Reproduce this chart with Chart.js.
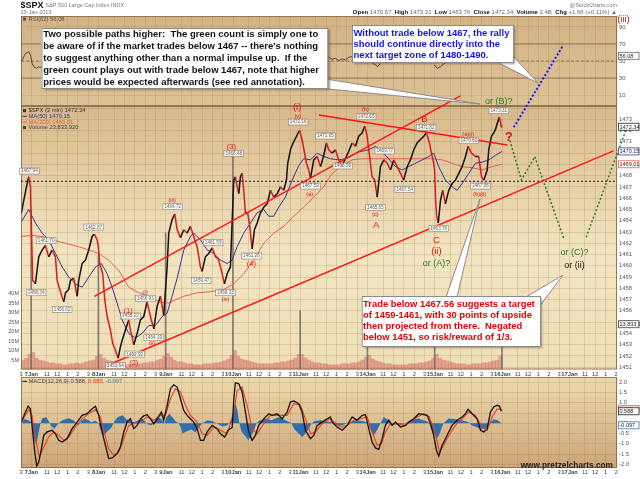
<!DOCTYPE html>
<html>
<head>
<meta charset="utf-8">
<script src="https://cdn.jsdelivr.net/npm/chart.js@4.4.1/dist/chart.umd.min.js"></script>
<style>
html,body{margin:0;padding:0;background:#fff;}
#wrap{position:relative;width:640px;height:479px;overflow:hidden;}
canvas{position:absolute;left:0;top:0;}
</style>
</head>
<body>
<div id="wrap">
<canvas id="rsi" width="640" height="479"></canvas>
<canvas id="macd" width="640" height="479"></canvas>
<canvas id="price" width="640" height="479"></canvas>
</div>
<script>
// x values are trading days since 7 Jan 09:30 (one session = 1.0)
var dayLabels = ['7Jan','8Jan','9Jan','10Jan','11Jan','14Jan','15Jan','16Jan','17Jan'];
var hourLabels = ['11','12','1','2','3'];
var hourValues = [11, 12, 13, 14, 15];
var priceTicks = [1451,1452,1453,1454,1455,1456,1457,1458,1459,1460,1461,1462,1463,1464,1465,1466,1467,1468,1469,1470,1471,1472,1473];
var volumeTicks = [5,10,15,20,25,30,35,40];
var rsiTicks = [10,30,50,70,90];
var macdTicks = [-2,-1.5,-1,-0.5,0,0.5,1,1.5,2];

var priceTimes = [
 -0.149,-0.114,-0.064,-0.040,-0.015,0.019,0.059,0.109,0.159,0.208,
 0.257,0.308,0.357,0.382,0.431,0.480,0.506,0.555,0.580,0.629,
 0.680,0.703,0.754,0.803,0.852,0.903,0.937,0.977,0.995,1.015,
 1.060,1.090,1.126,1.175,1.209,1.249,1.289,1.323,1.349,1.398,
 1.447,1.472,1.521,1.572,1.621,1.670,1.720,1.770,1.819,1.869,
 1.918,1.967,2.018,2.042,2.092,2.131,2.167,2.216,2.265,2.315,
 2.364,2.413,2.464,2.513,2.538,2.587,2.636,2.687,2.736,2.781,
 2.836,2.870,2.910,2.959,3.008,3.033,3.059,3.083,3.108,3.133,
 3.157,3.182,3.216,3.246,3.282,3.316,3.356,3.405,3.454,3.505,
 3.554,3.603,3.654,3.703,3.752,3.792,3.811,3.851,3.891,3.926,
 3.966,3.990,4.034,4.089,4.124,4.149,4.198,4.249,4.298,4.342,
 4.387,4.421,4.471,4.520,4.570,4.620,4.669,4.714,4.769,4.818,
 4.867,4.918,4.956,4.992,5.016,5.041,5.066,5.105,5.141,5.190,
 5.239,5.289,5.338,5.388,5.438,5.487,5.536,5.587,5.636,5.685,
 5.735,5.784,5.834,5.874,5.918,5.948,5.982,5.995,6.010,6.025,
 6.050,6.082,6.116,6.156,6.205,6.256,6.305,6.354,6.404,6.454,
 6.494,6.543,6.602,6.651,6.692,6.726,6.777,6.800,6.840,6.874,
 6.900,6.925,6.959,6.989,6.998];
var priceCloses = [
 1464.7,1465.8,1467.3,1467.9,1467.0,1458.7,1458.4,1460.8,1461.4,1461.8,
 1460.8,1461.4,1460.8,1458.7,1457.7,1456.8,1457.6,1457.9,1458.7,1458.9,
 1457.3,1458.7,1460.2,1460.5,1461.4,1462.6,1462.8,1462.3,1461.7,1460.2,
 1459.3,1457.0,1455.5,1454.3,1453.1,1452.5,1451.8,1452.8,1453.4,1454.3,
 1455.2,1454.3,1453.0,1454.0,1455.2,1455.5,1456.8,1455.5,1454.4,1456.4,
 1457.3,1455.6,1459.9,1462.9,1464.1,1464.6,1463.2,1462.5,1463.2,1462.9,
 1463.5,1462.6,1461.7,1459.9,1459.5,1460.8,1461.1,1461.6,1460.8,1460.6,
 1459.3,1458.4,1459.3,1459.9,1467.6,1467.9,1467.0,1466.4,1467.9,1468.2,
 1466.7,1464.7,1464.7,1463.5,1461.5,1463.2,1463.8,1464.7,1465.2,1465.5,
 1466.7,1466.1,1466.4,1467.0,1466.7,1467.6,1469.1,1470.3,1470.9,1471.3,
 1471.8,1472.0,1470.9,1469.1,1468.5,1467.8,1469.4,1469.7,1468.8,1469.7,
 1470.9,1470.3,1470.0,1470.3,1469.4,1468.9,1469.5,1470.1,1470.9,1470.6,
 1471.5,1471.8,1472.4,1471.5,1470.3,1469.1,1467.9,1467.6,1466.1,1468.8,
 1469.4,1469.1,1468.5,1469.4,1468.8,1468.2,1467.6,1468.8,1469.4,1470.3,
 1470.9,1471.2,1471.5,1471.8,1470.9,1470.0,1469.1,1468.5,1465.8,1464.4,
 1463.8,1465.8,1466.7,1465.5,1466.7,1467.3,1467.6,1468.2,1468.8,1469.7,
 1470.6,1470.0,1469.7,1469.7,1467.9,1467.6,1468.5,1470.3,1471.5,1471.8,
 1472.1,1472.6,1473.2,1472.3,1472.34];

var ma50Times = [
 -0.149,-0.040,0.059,0.159,0.257,0.357,0.457,0.555,0.654,0.754,
 0.852,0.952,1.041,1.126,1.200,1.274,1.349,1.447,1.547,1.646,
 1.744,1.844,1.944,2.018,2.092,2.167,2.265,2.364,2.413,2.513,
 2.613,2.711,2.810,2.910,2.984,3.059,3.157,3.257,3.356,3.454,
 3.529,3.603,3.677,3.777,3.877,3.975,4.049,4.149,4.248,4.346,
 4.446,4.570,4.669,4.769,4.867,5.016,5.115,5.215,5.313,5.413,
 5.513,5.610,5.710,5.810,5.908,5.982,6.056,6.156,6.256,6.330,
 6.404,6.503,6.602,6.702,6.800,6.900,6.998];
var ma50Values = [
 1463.9,1465.0,1463.8,1462.9,1462.3,1461.1,1459.9,1459.0,1458.4,1458.1,
 1459.0,1459.9,1460.2,1459.3,1458.1,1456.7,1455.2,1454.0,1453.6,1454.0,
 1454.7,1454.7,1455.5,1455.8,1457.3,1458.9,1461.4,1462.6,1462.9,1462.3,
 1461.4,1461.1,1460.5,1460.2,1460.5,1461.7,1462.9,1463.8,1464.7,1465.0,
 1464.4,1464.4,1465.2,1466.1,1467.6,1468.9,1469.5,1469.4,1470.0,1469.7,
 1469.5,1469.4,1469.5,1469.8,1470.1,1470.3,1470.6,1470.1,1469.5,1468.8,
 1468.5,1468.8,1469.1,1469.4,1469.7,1470.0,1468.8,1467.6,1467.0,1466.7,
 1467.3,1468.2,1469.1,1469.2,1469.4,1469.8,1470.15];

var ma200Times = [
 -0.149,0.010,0.159,0.308,0.506,0.703,0.852,1.001,1.149,1.298,
 1.447,1.596,1.744,1.893,2.042,2.190,2.265,2.464,2.662,2.859,
 3.008,3.157,3.306,3.454,3.603,3.752,3.900,4.049,4.198,4.346,
 4.471,4.620,4.769,4.918,5.215,5.513,5.810,5.958,6.107,6.256,
 6.404,6.553,6.702,6.851,6.998];
var ma200Values = [
 1462.6,1462.7,1462.6,1462.3,1462.0,1461.7,1461.4,1461.1,1460.5,1459.6,
 1458.1,1457.6,1457.3,1456.8,1456.7,1457.1,1457.3,1457.6,1457.7,1457.9,
 1458.4,1459.3,1460.5,1462.0,1462.9,1463.5,1464.4,1465.2,1466.1,1467.0,
 1468.2,1468.9,1469.4,1469.5,1469.5,1469.5,1469.5,1469.5,1469.4,1469.1,
 1468.8,1468.7,1468.5,1468.8,1469.01];

// volume in millions, 20 slots per session, last rows aligned to the close
var volumeDays = [-1, 0, 1, 2, 3, 4, 5, 6];
var volumeRows = [
 [5, 6, 8],
 [9, 6, 5, 4.5, 4, 3.5, 3.5, 3, 3, 2.5, 2.5, 3, 3, 3.5, 3, 3.5, 4, 4.5, 5, 7],
 [8, 6, 5, 4.5, 4, 3.5, 3, 3, 2.5, 2.5, 3, 3, 3, 3.5, 3.5, 4, 4, 5, 5.5, 7],
 [8.5, 6.5, 5, 4, 4, 3.5, 3, 3, 2.5, 2.5, 2.5, 3, 3, 3, 3.5, 3.5, 4, 4.5, 5.5, 7.5],
 [10, 7, 5.5, 5, 4.5, 4, 3.5, 3, 3, 3, 3, 3, 3.5, 3.5, 4, 4, 4.5, 5, 6, 8],
 [8, 6, 5, 4, 3.5, 3.5, 3, 3, 2.5, 2.5, 2.5, 2.5, 3, 3, 3, 3.5, 3.5, 4, 5, 6.5],
 [7.5, 5.5, 4.5, 4, 3.5, 3, 3, 2.5, 2.5, 2.5, 2.5, 2.5, 3, 3, 3, 3.5, 3.5, 4, 4.5, 6],
 [8, 6, 5, 4.5, 4, 3.5, 3, 3, 3, 2.5, 2.5, 3, 3, 3, 3.5, 3.5, 4, 4.5, 5, 7]];
var closeSpikeTimes = [-0.004, 0.996, 1.996, 2.996, 3.996, 4.996, 5.996, 6.996];
var closeSpikeVolumes = [84, 60, 72, 113, 31, 11.6, 12, 12];

var rsiTimes = [
 -0.149,-0.089,-0.040,-0.015,0.010,0.034,0.074,0.109,0.134,0.159,0.2,
 4.421,4.471,4.520,4.570,4.620,4.669,4.719,4.769,4.8,
 5.066,5.115,5.149,5.190,5.3,
 5.993,6.033,6.082,6.131,6.181,6.230];
var rsiValues = [
 49.2,59.0,61.0,57.0,47.3,43.3,41.4,43.3,42.1,45.3,null,
 54.4,52.0,53.2,50.4,52.7,51.2,54.4,55.1,null,
 48.0,45.3,43.3,47.3,null,
 45.3,41.4,43.3,46.5,49.2,51.2];

var macdTimes = [
 -0.149,-0.089,-0.049,-0.015,0.019,0.049,0.079,0.109,0.149,0.183,
 0.233,0.308,0.357,0.406,0.457,0.531,0.605,0.680,0.754,0.828,
 0.903,0.952,1.001,1.051,1.100,1.149,1.200,1.274,1.323,1.373,
 1.423,1.472,1.521,1.572,1.621,1.670,1.720,1.770,1.819,1.869,
 1.933,1.967,2.018,2.067,2.116,2.167,2.216,2.265,2.315,2.364,
 2.413,2.464,2.513,2.562,2.613,2.687,2.761,2.810,2.875,2.925,
 2.985,3.010,3.033,3.083,3.133,3.182,3.231,3.282,3.331,3.380,
 3.454,3.529,3.579,3.654,3.728,3.802,3.851,3.901,3.975,4.025,
 4.074,4.149,4.198,4.248,4.323,4.397,4.446,4.471,4.546,4.620,
 4.695,4.769,4.843,4.918,4.967,5.016,5.066,5.115,5.165,5.215,
 5.264,5.313,5.364,5.413,5.487,5.562,5.611,5.685,5.760,5.834,
 5.884,5.933,5.982,6.022,6.057,6.107,6.156,6.205,6.256,6.330,
 6.404,6.454,6.494,6.553,6.627,6.677,6.726,6.777,6.825,6.874,
 6.925,6.959,6.989];
var macdValues = [
 0.06,0.55,0.84,0.71,-0.42,-1.40,-2.08,-1.89,-1.24,-0.59,
 -0.42,-0.34,-0.51,-0.83,-0.91,-0.75,-0.26,0.06,0.39,0.47,
 0.71,0.83,0.39,-0.42,-1.07,-1.72,-1.69,-1.48,-1.16,-0.42,
 0.06,0.22,-0.26,-0.10,0.22,0.36,0.42,0.22,-0.02,0.22,
 0.55,0.15,0.88,1.69,1.88,1.77,1.20,0.63,0.39,0.22,
 0.06,-0.26,-0.83,-0.83,-0.42,-0.10,-0.26,-0.51,-0.67,-0.34,
 -0.20,1.20,1.98,1.93,1.53,0.55,-0.42,-0.83,-0.59,-0.10,
 0.22,0.47,0.39,0.47,0.22,0.55,1.04,1.09,0.96,0.55,
 -0.34,-0.75,-0.59,-0.10,0.06,0.22,0.31,0.06,-0.18,-0.34,
 -0.10,0.31,0.15,0.39,0.42,-0.26,-0.91,-1.20,-1.27,-0.75,
 -0.10,0.15,-0.10,0.06,-0.18,-0.10,0.06,0.22,0.47,0.42,
 0.39,-0.02,-0.59,-1.32,-1.60,-1.07,-0.75,-0.42,-0.10,0.15,
 0.31,0.47,0.68,0.47,0.22,-0.34,-0.42,-0.26,0.55,0.80,
 0.88,0.84,0.59];

var signalTimes = [
 -0.149,-0.040,0.010,0.059,0.119,0.183,0.257,0.331,0.406,0.480,
 0.555,0.654,0.754,0.852,0.952,1.026,1.075,1.149,1.224,1.298,
 1.373,1.447,1.521,1.621,1.720,1.819,1.918,1.993,2.067,2.141,
 2.216,2.290,2.364,2.464,2.538,2.613,2.711,2.810,2.910,3.010,
 3.059,3.133,3.207,3.282,3.356,3.454,3.554,3.677,3.802,3.901,
 4.000,4.074,4.149,4.223,4.323,4.446,4.595,4.695,4.794,4.892,
 4.992,5.066,5.141,5.204,5.264,5.338,5.438,5.536,5.636,5.735,
 5.834,5.918,6.007,6.067,6.131,6.205,6.305,6.404,6.503,6.602,
 6.702,6.777,6.851,6.925,6.989];
var signalValues = [
 0.06,0.68,0.39,-0.77,-1.64,-1.16,-0.67,-0.42,-0.59,-0.83,
 -0.67,-0.18,0.22,0.47,0.68,0.31,-0.34,-1.24,-1.56,-1.40,
 -0.75,-0.10,-0.02,0.06,0.31,0.15,0.39,0.39,1.20,1.69,
 1.53,0.88,0.39,0.06,-0.51,-0.59,-0.18,-0.34,-0.51,0.55,
 1.61,1.77,0.88,-0.26,-0.51,-0.02,0.39,0.39,0.39,0.96,
 0.88,0.22,-0.51,-0.42,-0.02,0.22,-0.18,-0.10,0.15,0.22,
 0.31,-0.42,-1.07,-1.00,-0.42,-0.02,-0.02,-0.10,0.06,0.31,
 0.47,0.31,-0.51,-1.40,-1.07,-0.59,-0.10,0.22,0.55,0.39,
 -0.18,-0.34,0.31,0.70,0.69];

var histTimes = [
 -0.149,-0.104,-0.045,0.000,0.015,0.049,0.074,0.104,0.134,0.164,
 0.223,0.257,0.297,0.342,0.401,0.461,0.555,0.625,0.669,0.699,
 0.729,0.788,0.848,0.892,0.952,0.996,1.026,1.071,1.130,1.190,
 1.234,1.279,1.353,1.413,1.472,1.532,1.591,1.651,1.725,1.784,
 1.844,1.888,1.933,1.978,2.007,2.052,2.097,2.141,2.186,2.216,
 2.245,2.305,2.379,2.439,2.483,2.543,2.617,2.692,2.781,2.840,
 2.914,2.959,3.005,3.033,3.063,3.093,3.123,3.227,3.301,3.346,
 3.375,3.480,3.569,3.673,3.747,3.822,3.866,3.911,4.030,4.119,
 4.164,4.208,4.297,4.401,4.471,4.546,4.620,4.695,4.818,4.941,
 5.011,5.041,5.090,5.145,5.190,5.239,5.309,5.353,5.428,5.532,
 5.591,5.636,5.755,5.874,5.918,5.963,6.033,6.082,6.126,6.205,
 6.305,6.404,6.498,6.543,6.702,6.781,6.810,6.874,6.929,6.974,
 6.989];
var histValues = [
 0.00,0.20,0.15,0.05,-0.30,-0.90,-1.00,-0.50,0.00,0.25,
 0.30,0.10,-0.15,-0.26,0.00,0.15,0.25,0.15,0.00,-0.10,
 0.05,0.23,0.15,0.05,0.12,0.00,-0.30,-0.59,-0.40,-0.20,
 0.10,0.30,0.39,0.20,0.10,0.05,0.15,0.23,-0.05,-0.10,
 0.10,0.30,0.20,0.00,0.30,0.47,0.30,0.10,0.00,-0.15,
 -0.50,-0.40,-0.30,-0.45,-0.20,0.00,0.15,0.10,-0.05,-0.15,
 -0.10,0.10,0.50,1.00,0.60,0.00,-0.40,-0.83,-0.40,0.00,
 0.10,0.23,0.15,0.30,0.20,0.08,0.00,-0.30,-0.67,-0.30,
 0.00,0.10,0.15,0.08,0.05,-0.10,-0.10,0.00,0.15,0.10,
 0.00,-0.30,-0.59,-0.30,0.00,0.31,0.15,0.00,-0.07,-0.05,
 0.05,0.15,0.23,0.10,0.00,-0.40,-0.75,-0.40,0.00,0.23,
 0.20,0.15,0.05,-0.10,-0.29,-0.20,0.00,0.20,0.15,0.05,
 -0.10];

// annotations, in chart coordinates (day, price)
var supportLevel = 1467.5;
var trendLines = [
 [0.937, 1457.28, 6.379, 1475.07],
 [1.108, 1451.11, 8.654, 1470.19],
 [4.275, 1473.38, 7.078, 1470.72]];
var bluePath = [[7.172, 1472.29], [7.900, 1479.5]];
var greenPaths = [
 [[7.097, 1471.46], [7.286, 1467.62], [7.484, 1469.68], [7.915, 1462.44]],
 [[8.248, 1462.53], [8.848, 1472.17]]];
var priceTags = [
 [-0.030,1468.41,'1467.94'],[0.070,1457.61,'1458.34'],[0.219,1462.23,'1461.70'],
 [0.457,1456.14,'1456.62'],[0.926,1463.44,'1462.87'],[1.249,1451.14,'1451.64'],
 [1.472,1455.55,'1455.20'],[1.536,1452.17,'1452.92'],[1.695,1457.12,'1456.93'],
 [1.819,1453.62,'1454.19'],[2.101,1465.24,'1464.72'],[2.702,1462.05,'1461.59'],
 [2.523,1458.68,'1459.47'],[2.885,1457.61,'1458.33'],[3.008,1469.98,'1468.48'],
 [3.271,1460.87,'1461.26'],[3.966,1472.76,'1472.16'],[4.372,1471.52,'1471.05'],
 [4.149,1467.08,'1467.59'],[4.629,1468.86,'1468.56'],[4.977,1473.23,'1472.65'],
 [5.254,1470.19,'1469.77'],[5.115,1465.19,'1465.65'],[5.551,1466.79,'1467.54'],
 [5.869,1472.29,'1471.82'],[6.057,1463.33,'1463.76'],[6.503,1471.10,'1470.62'],
 [6.677,1467.08,'1467.56'],[6.949,1473.76,'1473.31']];
var waveLabels = [
 [1.438,1456.02,'(1)','mid'],[1.521,1451.35,'(2)','mid'],[1.695,1457.61,'(i)','small'],
 [1.795,1453.12,'(ii)','small'],[2.092,1465.84,'(iii)','small'],[2.885,1456.97,'(iv)','small'],
 [2.974,1470.52,'(3)','mid'],[3.271,1460.16,'(4)','mid'],[3.951,1474.06,'(i)','big'],
 [3.960,1473.29,'(v)','small'],[4.138,1466.37,'(a)','small'],[4.967,1473.89,'(b)','small'],
 [5.115,1464.51,'(c)','small'],[5.126,1463.62,'A','big'],[5.844,1473.00,'B','big'],
 [6.022,1462.29,'C','big'],[6.022,1461.25,'(ii)','big'],[6.022,1460.22,'or (A)?','green'],
 [6.494,1471.67,'(a)(i)','small'],[6.666,1466.35,'(b)(ii)','small'],[6.949,1474.54,'or (B)?','green'],
 [7.097,1471.43,'?','q'],[8.074,1461.20,'or (C)?','green'],[8.074,1460.00,'or (ii)','dark'],
 [8.803,1481.90,'(iii)','big']];

var FONT = '"Liberation Sans", Arial, sans-serif';
var GRID = 'rgba(150,110,60,0.28)';
var FRAME = 'rgba(120,95,60,0.75)';
var X_MIN = -0.155, X_MAX = 8.707;
var VOL_SLOTS = 20;

Chart.defaults.font.family = FONT;
Chart.defaults.animation = false;

function pts(ts, vs) {
  return ts.map(function(t, i) { return {x: t, y: vs[i]}; });
}

var xTicks = [];
for (var d = -1; d < dayLabels.length; d++) {
  if (d >= 0) xTicks.push({value: d, label: dayLabels[d], day: true});
  hourValues.forEach(function(h, i) {
    xTicks.push({value: d + (h - 9.5) / 6.5, label: hourLabels[i], day: false});
  });
}
xTicks = xTicks.filter(function(o) { return o.value >= X_MIN && o.value <= X_MAX; })
  .sort(function(a, b) { return a.value - b.value; });

function makeX(showLabels, height) {
  return {
    type: 'linear', min: X_MIN, max: X_MAX, offset: false,
    afterBuildTicks: function(s) { s.ticks = xTicks.map(function(o) { return {value: o.value}; }); },
    afterFit: function(s) { s.height = height; },
    ticks: {
      display: showLabels, autoSkip: false, maxRotation: 0, minRotation: 0, padding: 1,
      color: '#444',
      font: function(c) { return {size: 5.8, weight: (xTicks[c.index] && xTicks[c.index].day) ? 'bold' : 'normal'}; },
      callback: function(v, i) { return xTicks[i] ? xTicks[i].label : ''; }
    },
    grid: {color: GRID, lineWidth: 0.7, drawTicks: false, offset: false},
    border: {display: false}
  };
}

function makeRightY(min, max, ticks, fmt) {
  return {
    position: 'right', min: min, max: max,
    afterBuildTicks: function(s) { s.ticks = ticks.map(function(v) { return {value: v}; }); },
    afterFit: function(s) { s.width = 23; },
    ticks: {padding: 2, color: '#555', font: {size: 5.8}, callback: fmt},
    grid: {color: GRID, lineWidth: 0.7, drawTicks: false},
    border: {display: false}
  };
}

function panelBackground(stops) {
  return {
    id: 'panelBackground',
    beforeDraw: function(chart) {
      var a = chart.chartArea, c = chart.ctx;
      var g = c.createLinearGradient(0, a.top, 0, a.bottom);
      stops.forEach(function(s) { g.addColorStop(s[0], s[1]); });
      c.save();
      c.fillStyle = g;
      c.fillRect(a.left, a.top, a.right - a.left, a.bottom - a.top);
      c.restore();
    },
    afterDatasetsDraw: function(chart) {
      var a = chart.chartArea, c = chart.ctx;
      c.save();
      c.strokeStyle = FRAME; c.lineWidth = 1;
      c.strokeRect(a.left + 0.5, a.top + 0.5, a.right - a.left - 1, a.bottom - a.top - 1);
      c.restore();
    }
  };
}

function valueBox(c, y, text, border) {
  c.save();
  c.font = '5.5px ' + FONT;
  c.fillStyle = '#fff';
  c.strokeStyle = border; c.lineWidth = 0.8;
  c.fillRect(618, y - 3.5, 21, 7);
  c.strokeRect(618.5, y - 3.5, 20.5, 7);
  c.fillStyle = '#222'; c.textBaseline = 'middle'; c.textAlign = 'left';
  c.fillText(text, 619.5, y + 0.3);
  c.restore();
}

function strokePath(c, path, X, Y, color, width, dash) {
  c.save();
  c.strokeStyle = color; c.lineWidth = width; c.setLineDash(dash || []);
  c.beginPath();
  path.forEach(function(p, i) {
    if (i === 0) c.moveTo(X(p[0]), Y(p[1])); else c.lineTo(X(p[0]), Y(p[1]));
  });
  c.stroke();
  c.restore();
}

function drawCallout(c, b) {
  c.save();
  c.lineWidth = 1; c.strokeStyle = '#8a8a8a'; c.fillStyle = '#fff';
  b.wedges.forEach(function(w) {
    c.beginPath(); c.moveTo(w[0][0], w[0][1]); c.lineTo(w[1][0], w[1][1]); c.lineTo(w[2][0], w[2][1]);
    c.closePath(); c.fill(); c.stroke();
  });
  c.shadowColor = 'rgba(70,50,20,0.45)'; c.shadowOffsetX = 2; c.shadowOffsetY = 2; c.shadowBlur = 2;
  c.fillRect(b.x, b.y, b.w, b.h);
  c.shadowColor = 'rgba(0,0,0,0)';
  c.strokeRect(b.x + 0.5, b.y + 0.5, b.w, b.h);
  c.font = 'bold 10px ' + FONT;
  var size = 10 * b.fit / c.measureText(b.lines[0]).width;
  c.font = 'bold ' + size.toFixed(2) + 'px ' + FONT;
  c.fillStyle = b.color; c.textBaseline = 'middle'; c.textAlign = 'left';
  b.lines.forEach(function(s, i) { c.fillText(s, b.tx, b.ty + i * b.lh); });
  c.restore();
}

var callouts = [
  {x: 41.5, y: 28, w: 286, h: 60, tx: 43.3, ty: 34.6, lh: 11.85, fit: 275, color: '#111',
   wedges: [[[326, 79], [480, 104], [318, 88]]],
   lines: ['Two possible paths higher:  The green count is simply one to',
           'be aware of if the market trades below 1467 -- there\'s nothing',
           'to suggest anything other than a normal impulse up.  If the',
           'green count plays out with trade below 1467, note that higher',
           'prices would be expected afterwards (see red annotation).']},
  {x: 352, y: 25, w: 161, h: 37, tx: 353.5, ty: 33.3, lh: 11, fit: 156, color: '#1414e6',
   wedges: [[[497, 62], [538, 83], [512, 55]]],
   lines: ['Without trade below 1467, the rally',
           'should continue directly into the',
           'next target zone of 1480-1490.']},
  {x: 361.7, y: 296, w: 178.3, h: 50, tx: 363, ty: 304.6, lh: 10.8, fit: 172, color: '#e80000',
   wedges: [[[446, 297], [480, 199], [457, 297]], [[526, 297], [563, 275], [539, 307]]],
   lines: ['Trade below 1467.56 suggests a target',
           'of 1459-1461, with 30 points of upside',
           'then projected from there.  Negated',
           'below 1451, so risk/reward of 1/3.']}
];

var labelStyles = {
  big:   {font: '9.5px ', color: '#e81010'},
  mid:   {font: '7.5px ', color: '#e81010'},
  small: {font: '5.5px ', color: '#e01010'},
  green: {font: '9px ', color: '#2e7a1e'},
  dark:  {font: '9px ', color: '#1a1a1a'},
  q:     {font: 'bold 13px ', color: '#e81010'}
};

var priceOverlay = {
  id: 'priceOverlay',
  afterDraw: function(chart) {
    var c = chart.ctx, a = chart.chartArea;
    var xs = chart.scales.x, ys = chart.scales.y, yv = chart.scales.yv;
    var X = function(t) { return xs.getPixelForValue(t); };
    var Y = function(p) { return ys.getPixelForValue(p); };

    // dotted support level
    c.save();
    c.beginPath(); c.rect(a.left, a.top, a.right - a.left, a.bottom - a.top); c.clip();
    c.setLineDash([2, 2]); c.strokeStyle = '#1a1a1a'; c.lineWidth = 1;
    c.beginPath(); c.moveTo(a.left, Y(supportLevel)); c.lineTo(a.right, Y(supportLevel)); c.stroke();
    c.restore();

    trendLines.forEach(function(l) {
      strokePath(c, [[l[0], l[1]], [l[2], l[3]]], X, Y, '#ff1414', 1.4);
    });
    strokePath(c, bluePath, X, Y, '#1b1bff', 2, [2, 2]);
    greenPaths.forEach(function(p) { strokePath(c, p, X, Y, '#23801f', 1.5, [2, 2]); });

    // price tags
    c.save();
    c.font = '4.6px ' + FONT; c.textAlign = 'center'; c.textBaseline = 'middle';
    priceTags.forEach(function(tg) {
      var x = X(tg[0]), y = Y(tg[1]);
      var w = c.measureText(tg[2]).width + 3;
      c.fillStyle = 'rgba(255,255,255,0.8)'; c.strokeStyle = 'rgba(120,120,120,0.9)'; c.lineWidth = 0.6;
      c.fillRect(x - w / 2, y - 3, w, 6);
      c.strokeRect(x - w / 2, y - 3, w, 6);
      c.fillStyle = '#666';
      c.fillText(tg[2], x, y + 0.2);
    });
    c.restore();

    // wave labels
    c.save();
    c.textAlign = 'center'; c.textBaseline = 'middle';
    waveLabels.forEach(function(w) {
      var st = labelStyles[w[3]];
      c.font = st.font + FONT; c.fillStyle = st.color;
      c.fillText(w[2], X(w[0]), Y(w[1]));
    });
    c.restore();

    // legend
    c.save();
    c.font = '5.8px ' + FONT; c.textBaseline = 'middle'; c.textAlign = 'left';
    var legend = [['$SPX (3 min) 1472.34', '#333', 'sq'], ['MA(50) 1470.15', '#34349a', 'ln'],
                  ['MA(200) 1469.01', '#e8604a', 'ln'], ['Volume 23,833,920', '#444', 'sq']];
    legend.forEach(function(l, i) {
      var y = 110.7 + i * 5.6;
      c.fillStyle = l[1]; c.strokeStyle = l[1];
      if (l[2] === 'sq') c.fillRect(23, y - 1.5, 3, 3);
      else { c.lineWidth = 1; c.beginPath(); c.moveTo(22.5, y); c.lineTo(27, y); c.stroke(); }
      c.fillText(l[0], 28.5, y);
    });
    c.restore();

    // right axis value boxes
    valueBox(c, Y(1472.34), '1472.34', '#222');
    valueBox(c, Y(1470.15), '1470.15', '#34349a');
    valueBox(c, Y(1469.01), '1469.01', '#e8604a');
    valueBox(c, yv.getPixelForValue(23.83), '23,833,920', '#444');

    callouts.forEach(function(b) { drawCallout(c, b); });

    // header
    c.save();
    c.textBaseline = 'middle'; c.textAlign = 'left';
    c.font = 'bold 9px ' + FONT; c.fillStyle = '#111';
    c.fillText('$SPX', 20.5, 5.5);
    var w0 = c.measureText('$SPX').width;
    c.font = '5.5px ' + FONT; c.fillStyle = '#777';
    c.fillText('S&P 500 Large Cap Index INDX', 20.5 + w0 + 2, 5.5);
    c.fillText('15-Jan-2013', 20.5, 12);
    c.textAlign = 'right';
    c.fillText('@StockCharts.com', 617, 5);
    var parts = [['Open', 1], [' 1470.67  ', 0], ['High', 1], [' 1473.31  ', 0], ['Low', 1], [' 1463.76  ', 0],
                 ['Close', 1], [' 1472.34  ', 0], ['Volume', 1], [' 2.4B  ', 0], ['Chg', 1], [' +1.66 (+0.11%) \u25B2', 0]];
    var total = 0;
    parts.forEach(function(p) { c.font = (p[1] ? 'bold ' : '') + '6px ' + FONT; total += c.measureText(p[0]).width; });
    var x = 617 - total;
    c.textAlign = 'left';
    parts.forEach(function(p) {
      c.font = (p[1] ? 'bold ' : '') + '6px ' + FONT;
      c.fillStyle = p[1] ? '#111' : '#666';
      c.fillText(p[0], x, 12.3);
      x += c.measureText(p[0]).width;
    });
    c.restore();
  }
};

var rsiOverlay = {
  id: 'rsiOverlay',
  afterDatasetsDraw: function(chart) {
    var c = chart.ctx, a = chart.chartArea, ys = chart.scales.y;
    c.save();
    c.strokeStyle = 'rgba(90,75,55,0.55)'; c.lineWidth = 1;
    [70, 30].forEach(function(v) {
      c.beginPath(); c.moveTo(a.left, ys.getPixelForValue(v)); c.lineTo(a.right, ys.getPixelForValue(v)); c.stroke();
    });
    c.setLineDash([3, 2]);
    c.beginPath(); c.moveTo(a.left, ys.getPixelForValue(50)); c.lineTo(a.right, ys.getPixelForValue(50)); c.stroke();
    c.restore();
    c.save();
    c.font = '5.8px ' + FONT; c.textBaseline = 'middle'; c.textAlign = 'left';
    c.fillStyle = '#555'; c.fillRect(23, 17.5, 3, 3);
    c.fillText('RSI(62) 56.08', 28.5, 19);
    c.restore();
    valueBox(c, ys.getPixelForValue(56.08), '56.08', '#666');
  }
};

var macdOverlay = {
  id: 'macdOverlay',
  afterDraw: function(chart) {
    var c = chart.ctx, ys = chart.scales.y;
    c.save();
    c.font = '5.8px ' + FONT; c.textBaseline = 'middle'; c.textAlign = 'left';
    c.strokeStyle = '#111'; c.lineWidth = 1;
    c.beginPath(); c.moveTo(22.5, 381.3); c.lineTo(27, 381.3); c.stroke();
    var x = 28.5;
    [['MACD(12,26,9) 0.588, ', '#444'], ['0.685, ', '#e83020'], ['-0.097', '#3a78b8']].forEach(function(p) {
      c.fillStyle = p[1]; c.fillText(p[0], x, 381.3); x += c.measureText(p[0]).width;
    });
    c.font = 'bold 8.3px ' + FONT; c.fillStyle = '#1e1e1e'; c.textAlign = 'right';
    c.fillText('www.pretzelcharts.com', 613, 466);
    c.restore();
    valueBox(c, ys.getPixelForValue(0.685), '0.685', '#e83020');
    valueBox(c, ys.getPixelForValue(0.588), '0.588', '#222');
    valueBox(c, ys.getPixelForValue(-0.097), '-0.097', '#3a78b8');
  }
};

var baseOptions = function(padding, scales) {
  return {
    responsive: false, animation: false, events: [],
    layout: {padding: padding},
    plugins: {legend: {display: false}, tooltip: {enabled: false}},
    elements: {point: {radius: 0}},
    scales: scales
  };
};

var volumePoints = [];
volumeRows.forEach(function(row, r) {
  var start = VOL_SLOTS - row.length;
  row.forEach(function(v, i) {
    volumePoints.push({x: volumeDays[r] + (start + i + 0.5) / VOL_SLOTS, y: v});
  });
});

// RSI panel
new Chart(document.getElementById('rsi'), {
  type: 'line',
  data: {datasets: [{
    label: 'RSI(62)', data: pts(rsiTimes, rsiValues), borderColor: '#3a3a3a', borderWidth: 0.9,
    pointRadius: 0, spanGaps: false, tension: 0
  }]},
  options: baseOptions({top: 16, left: 21, right: 0, bottom: 373}, {
    x: makeX(false, 0),
    y: makeRightY(-2.9, 102.9, rsiTicks, function(v) { return String(v); })
  }),
  plugins: [panelBackground([[0, '#d4b386'], [1, '#dcc297']]), rsiOverlay]
});

// MACD panel
new Chart(document.getElementById('macd'), {
  type: 'line',
  data: {datasets: [
    {label: 'MACD', data: pts(macdTimes, macdValues), borderColor: '#111', borderWidth: 1.3, pointRadius: 0, order: 0},
    {label: 'Signal', data: pts(signalTimes, signalValues), borderColor: '#f03a24', borderWidth: 1.1, pointRadius: 0, order: 1},
    {label: 'Histogram', data: pts(histTimes, histValues), borderColor: 'rgba(0,0,0,0)', borderWidth: 0,
     backgroundColor: '#2f6fae', fill: 'origin', pointRadius: 0, order: 2}
  ]},
  options: baseOptions({top: 377, left: 21, right: 0, bottom: 0}, {
    x: makeX(true, 11),
    y: makeRightY(-2.18, 2.26, macdTicks, function(v) { return v.toFixed(1); })
  }),
  plugins: [panelBackground([[0, '#ecd9ad'], [1, '#cda577']]), macdOverlay]
});

// price panel (top layer, also carries the annotations)
var priceY = makeRightY(1450.80, 1474.18, priceTicks.concat([1474]), function(v) { return v <= 1473 ? String(v) : ''; });
new Chart(document.getElementById('price'), {
  type: 'line',
  data: {datasets: [
    {label: '$SPX', data: pts(priceTimes, priceCloses), yAxisID: 'y', borderColor: '#111', borderWidth: 1.5,
     pointRadius: 0, tension: 0, order: 0,
     segment: {borderColor: function(s) { return s.p1.parsed.y >= s.p0.parsed.y ? '#111' : '#d81b1b'; }}},
    {label: 'MA(50)', data: pts(ma50Times, ma50Values), yAxisID: 'y', borderColor: '#34349a', borderWidth: 1,
     pointRadius: 0, order: 1},
    {label: 'MA(200)', data: pts(ma200Times, ma200Values), yAxisID: 'y', borderColor: '#e8604a', borderWidth: 1,
     pointRadius: 0, order: 2},
    {type: 'bar', label: 'Closing volume', data: pts(closeSpikeTimes, closeSpikeVolumes), yAxisID: 'yv',
     backgroundColor: 'rgba(115,105,100,0.85)', barThickness: 1, grouped: false, order: 3},
    {type: 'bar', label: 'Volume', data: volumePoints, yAxisID: 'yv',
     backgroundColor: 'rgba(214,112,104,0.55)', barThickness: 3.4, grouped: false, order: 4}
  ]},
  options: baseOptions({top: 106, left: 0, right: 0, bottom: 97.5}, {
    x: makeX(true, 12),
    y: priceY,
    yv: {
      position: 'left', min: 0, max: 138.7,
      afterBuildTicks: function(s) { s.ticks = volumeTicks.map(function(v) { return {value: v}; }); },
      afterFit: function(s) { s.width = 21; },
      ticks: {padding: 2, color: '#555', font: {size: 5.5}, callback: function(v) { return v + 'M'; }},
      grid: {display: false, drawTicks: false},
      border: {display: false}
    }
  }),
  plugins: [panelBackground([[0, '#d7b88a'], [0.55, '#f2e4c0'], [1, '#efdfb8']]), priceOverlay]
});
</script>
</body>
</html>
